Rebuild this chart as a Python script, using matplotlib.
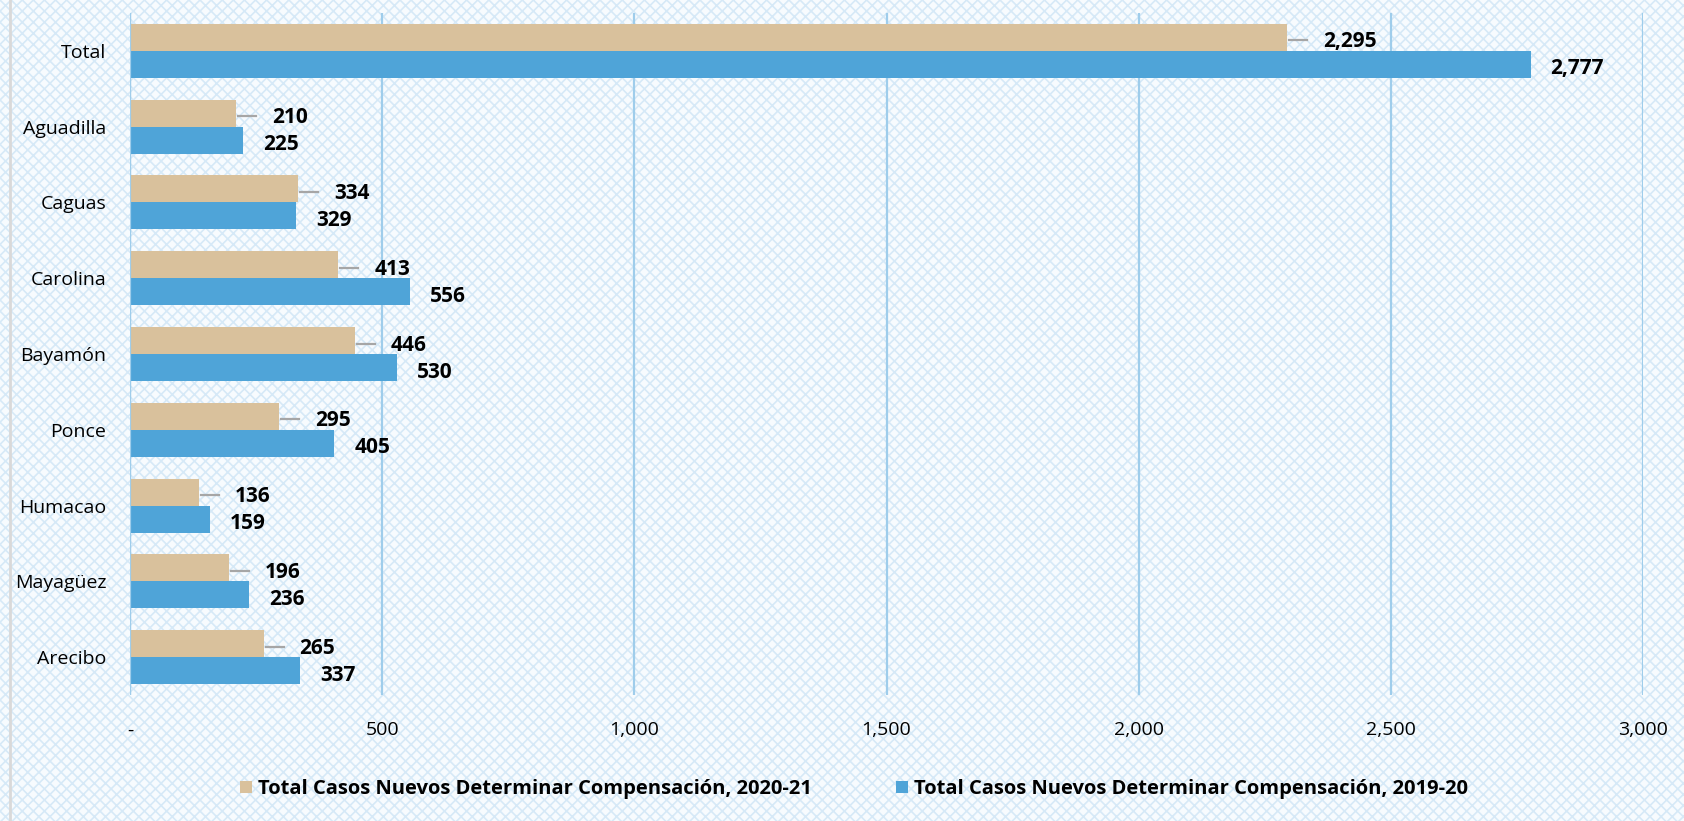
import matplotlib
matplotlib.use("Agg")
import matplotlib.pyplot as plt
from matplotlib.lines import Line2D
from matplotlib.patches import Patch
import numpy as np

# data (top to bottom)
regions = ["Total", "Aguadilla", "Caguas", "Carolina", "Bayamón",
           "Ponce", "Humacao", "Mayagüez", "Arecibo"]
casos_2020_21 = [2295, 210, 334, 413, 446, 295, 136, 196, 265]
casos_2019_20 = [2777, 225, 329, 556, 530, 405, 159, 236, 337]
series_names = ["Total Casos Nuevos Determinar Compensación, 2020-21",
                "Total Casos Nuevos Determinar Compensación, 2019-20"]
x_ticks = [0, 500, 1000, 1500, 2000, 2500, 3000]
x_tick_labels = ["-", "500", "1,000", "1,500", "2,000", "2,500", "3,000"]

TAN = "#D9C19C"
BLUE = "#4FA4D8"
GRID = "#9FCDEB"

plt.rcParams["font.family"] = ["Open Sans", "DejaVu Sans"]
plt.rcParams["hatch.linewidth"] = 1.2

W, H = 1684, 821
fig = plt.figure(figsize=(W / 100, H / 100), dpi=100)
fig.patch.set_facecolor("#F7FBFE")
fig.patch.set_edgecolor("#D6E9F7")
fig.patch.set_hatch("xxx")
fig.patch.set_linewidth(0)

ax = fig.add_axes([130 / W, 1 - 695 / H, (1643 - 130) / W, (695 - 13) / H])
ax.set_facecolor("none")

n = len(regions)
y = np.arange(n)[::-1]
h = 0.356
ax.barh(y + h / 2, casos_2020_21, height=h, color=TAN, zorder=3)
ax.barh(y - h / 2, casos_2019_20, height=h, color=BLUE, zorder=3)

ax.set_xlim(0, 3000)
ax.set_ylim(-0.5, n - 0.5)
ax.set_xticks(x_ticks)
ax.set_xticklabels(x_tick_labels)
ax.set_yticks(y)
ax.set_yticklabels(regions)
ax.tick_params(axis="both", length=0, labelsize=14, colors="#000000")
ax.tick_params(axis="x", pad=19)
ax.tick_params(axis="y", pad=17)
for s in ax.spines.values():
    s.set_visible(False)
ax.xaxis.grid(True, color=GRID, linewidth=1.6, zorder=1)
ax.axvline(0, color=GRID, linewidth=1.6, zorder=4)

# px -> data units along x
px = 3000 / (1643 - 130)

for yi, v in zip(y, casos_2020_21):
    ax.add_line(Line2D([v + 2 * px, v + 20 * px], [yi + h / 2 - 0.04] * 2,
                       color="#A6A6A6", linewidth=1.6, zorder=4))
    ax.text(v + 36 * px, yi + h / 2 - 0.06, f"{v:,}", ha="left", va="center",
            fontsize=15, fontweight="bold", zorder=5)
for yi, v in zip(y, casos_2019_20):
    ax.text(v + 20 * px, yi - h / 2 - 0.06, f"{v:,}", ha="left", va="center",
            fontsize=15, fontweight="bold", zorder=5)

handles = [Patch(facecolor=TAN, edgecolor="none"),
           Patch(facecolor=BLUE, edgecolor="none")]
fig.legend(handles, series_names, loc="center", ncol=2, frameon=False,
           bbox_to_anchor=(854 / W, 1 - 789 / H),
           prop={"size": 14.5, "weight": "bold"},
           handlelength=0.6, handleheight=0.6, handletextpad=0.3,
           columnspacing=4.2)

# thin grey border on the left of the chart area
fig.add_artist(Line2D([10 / W, 10 / W], [0, 1], color="#D9D9D9",
                      linewidth=2.0, transform=fig.transFigure))

fig.savefig("out.png", dpi=100, facecolor=fig.get_facecolor())
